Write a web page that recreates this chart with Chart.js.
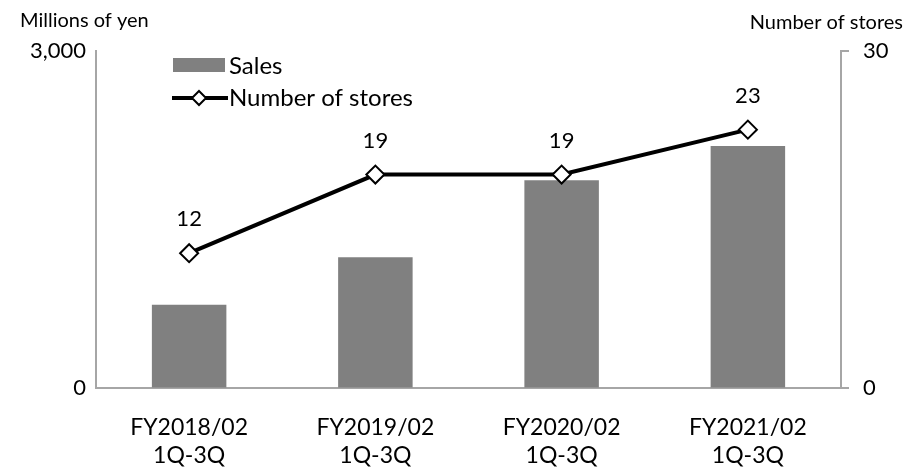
<!DOCTYPE html>
<html>
<head>
<meta charset="utf-8">
<script src="https://cdn.jsdelivr.net/npm/chart.js@4"></script>
<style>
  body { margin: 0; background: #fff; }
  #wrap { width: 912px; height: 469px; }
</style>
</head>
<body>
<div id="wrap"><canvas id="chart" width="912" height="469"></canvas></div>
<script>
const categories = [['FY2018/02', '1Q-3Q'], ['FY2019/02', '1Q-3Q'], ['FY2020/02', '1Q-3Q'], ['FY2021/02', '1Q-3Q']];
const sales = [740, 1165, 1850, 2155];
const stores = [12, 19, 19, 23];

const FONT = 'Lato';
const axisColor = '#a6a6a6';

// labels above line points + axis titles + legend
const extras = {
    id: 'extras',
    afterDatasetsDraw(chart) {
        const ctx = chart.ctx;
        const area = chart.chartArea;
        ctx.save();
        ctx.fillStyle = '#000';
        ctx.font = '22px ' + FONT;
        ctx.textAlign = 'center';
        ctx.textBaseline = 'middle';
        const meta = chart.getDatasetMeta(1);
        meta.data.forEach(function(pt, i) {
            ctx.fillText(stores[i], pt.x, pt.y - 34);
        });

        ctx.font = '20px ' + FONT;
        ctx.textAlign = 'left';
        ctx.fillText('Millions of yen', 20, 21);
        ctx.textAlign = 'right';
        ctx.fillText('Number of stores', 903, 23);

        // legend
        ctx.fillStyle = '#808080';
        ctx.fillRect(area.left + 77, 58, 52, 14);
        ctx.strokeStyle = '#000';
        ctx.lineWidth = 4;
        ctx.beginPath();
        ctx.moveTo(area.left + 76, 98);
        ctx.lineTo(area.left + 132, 98);
        ctx.stroke();
        ctx.fillStyle = '#fff';
        ctx.lineWidth = 2;
        ctx.beginPath();
        const cx = area.left + 103, cy = 98;
        ctx.moveTo(cx, cy - 7);
        ctx.lineTo(cx + 7, cy);
        ctx.lineTo(cx, cy + 7);
        ctx.lineTo(cx - 7, cy);
        ctx.closePath();
        ctx.fill();
        ctx.stroke();
        ctx.fillStyle = '#000';
        ctx.font = '24px ' + FONT;
        ctx.textAlign = 'left';
        ctx.fillText('Sales', area.left + 133, 66);
        ctx.fillText('Number of stores', area.left + 133, 98);
        ctx.restore();
    }
};

new Chart(document.getElementById('chart'), {
    type: 'bar',
    data: {
        labels: categories,
        datasets: [{
            type: 'bar',
            label: 'Sales',
            data: sales,
            backgroundColor: '#808080',
            yAxisID: 'y',
            barPercentage: 0.4,
            categoryPercentage: 1.0,
            order: 2
        }, {
            type: 'line',
            label: 'Number of stores',
            data: stores,
            yAxisID: 'y1',
            borderColor: '#000',
            borderWidth: 4,
            pointStyle: 'rectRot',
            pointRadius: 9,
            pointBackgroundColor: '#fff',
            pointBorderColor: '#000',
            pointBorderWidth: 2,
            tension: 0,
            order: 1
        }]
    },
    options: {
        responsive: false,
        animation: false,
        layout: { padding: { top: 51 } },
        plugins: {
            legend: { display: false },
            tooltip: { enabled: false }
        },
        scales: {
            x: {
                grid: { display: false },
                border: { display: true, color: axisColor, width: 2 },
                ticks: { color: '#000', font: { family: FONT, size: 23 }, padding: 18, maxRotation: 0 },
                afterFit: function(s) { s.height = 81; }
            },
            y: {
                position: 'left',
                min: 0,
                max: 3000,
                grid: { display: true, drawOnChartArea: false, drawTicks: false },
                border: { display: true, color: axisColor, width: 2 },
                ticks: {
                    stepSize: 3000,
                    color: '#000',
                    padding: 10,
                    font: { family: FONT, size: 22 },
                    callback: function(v) { return v.toLocaleString('en-US'); }
                },
                afterFit: function(s) { s.width = 96; }
            },
            y1: {
                position: 'right',
                min: 0,
                max: 30,
                grid: { display: true, drawOnChartArea: false, drawTicks: true, tickLength: 8, color: axisColor, lineWidth: 2 },
                border: { display: true, color: axisColor, width: 2 },
                ticks: { stepSize: 30, color: '#000', padding: 14, font: { family: FONT, size: 22 } },
                afterFit: function(s) { s.width = 71; }
            }
        }
    },
    plugins: [extras]
});
</script>
</body>
</html>
